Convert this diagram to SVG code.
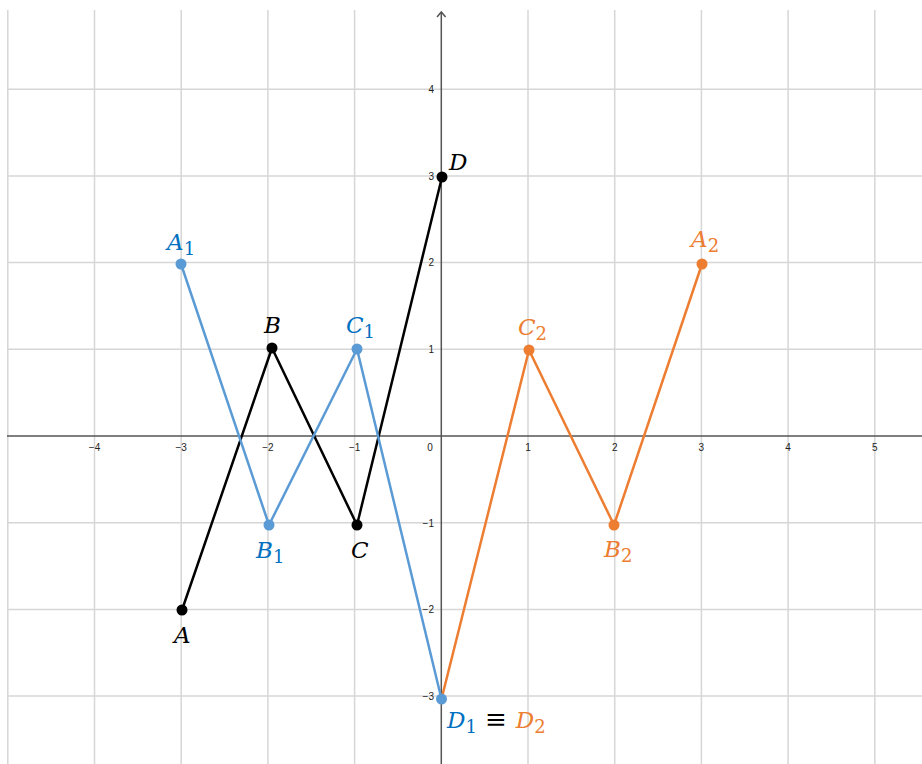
<svg xmlns="http://www.w3.org/2000/svg" width="922" height="764" viewBox="0 0 922 764">
<style>
.grid{stroke:#d6d6d6;stroke-width:1.5;fill:none}
.axis{stroke:#555;stroke-width:1.5;fill:none}
.tick{font-family:"Liberation Sans",Arial,sans-serif;font-size:10px;fill:#222}
.lbl{font-family:"DejaVu Serif","Liberation Serif",serif;font-style:italic;font-size:23px}
.sub{font-family:"DejaVu Serif","Liberation Serif",serif;font-size:18px;font-style:normal}
.blk{stroke:#000;stroke-width:2.5;fill:none;stroke-linejoin:round}
.blu{stroke:#5B9BD5;stroke-width:2.5;fill:none;stroke-linejoin:round}
.org{stroke:#ED7D31;stroke-width:2.5;fill:none;stroke-linejoin:round}
</style>
<rect width="922" height="764" fill="#fff"/>
<g id="grid">
<path class="grid" d="M7.8 10V764M94.5 10V764M181.2 10V764M267.9 10V764M354.6 10V764M528 10V764M614.7 10V764M701.4 10V764M788.1 10V764M874.8 10V764"/>
<path class="grid" d="M7 89.2H922M7 175.9H922M7 262.6H922M7 349.3H922M7 522.7H922M7 609.4H922M7 696.1H922"/>
</g>
<g id="axes">
<path class="axis" d="M7 436H922M441.3 764V12"/>
<path class="axis" d="M437 17L441.3 12L445.6 17"/>
</g>
<g id="ticks" class="tick">
<text x="94.5" y="451" text-anchor="middle">−4</text>
<text x="181.2" y="451" text-anchor="middle">−3</text>
<text x="267.9" y="451" text-anchor="middle">−2</text>
<text x="354.6" y="451" text-anchor="middle">−1</text>
<text x="430" y="451" text-anchor="middle">0</text>
<text x="528" y="451" text-anchor="middle">1</text>
<text x="614.7" y="451" text-anchor="middle">2</text>
<text x="701.4" y="451" text-anchor="middle">3</text>
<text x="788.1" y="451" text-anchor="middle">4</text>
<text x="874.8" y="451" text-anchor="middle">5</text>
<text x="434" y="93" text-anchor="end">4</text>
<text x="434" y="179.7" text-anchor="end">3</text>
<text x="434" y="266.4" text-anchor="end">2</text>
<text x="434" y="353.1" text-anchor="end">1</text>
<text x="434" y="526.5" text-anchor="end">−1</text>
<text x="434" y="613.2" text-anchor="end">−2</text>
<text x="434" y="699.9" text-anchor="end">−3</text>
</g>
<g id="connectors">
<polyline class="blk" points="182,610 272,348 357,525 442,177"/>
<polyline class="blu" points="181,264 269,525 357,349 441.5,699"/>
<polyline class="org" points="441.5,699 529,350 614,525 702,264"/>
</g>
<g id="A"><circle cx="182" cy="610" r="5.5" fill="#000"/><text class="lbl" x="174" y="643" fill="#000">A</text></g>
<g id="B"><circle cx="272" cy="348" r="5.5" fill="#000"/><text class="lbl" x="264" y="333" fill="#000">B</text></g>
<g id="C"><circle cx="357" cy="525" r="5.5" fill="#000"/><text class="lbl" x="351" y="558" fill="#000">C</text></g>
<g id="D"><circle cx="442" cy="177" r="5.5" fill="#000"/><text class="lbl" x="449" y="170" fill="#000">D</text></g>
<g id="A1" fill="#0070C0"><circle cx="181" cy="264" r="5.5" fill="#5B9BD5"/><text class="lbl" x="167" y="250">A<tspan class="sub" dy="5">1</tspan></text></g>
<g id="B1" fill="#0070C0"><circle cx="269" cy="525" r="5.5" fill="#5B9BD5"/><text class="lbl" x="256" y="558">B<tspan class="sub" dy="5">1</tspan></text></g>
<g id="C1" fill="#0070C0"><circle cx="357" cy="349" r="5.5" fill="#5B9BD5"/><text class="lbl" x="346" y="333">C<tspan class="sub" dy="5">1</tspan></text></g>
<g id="C2" fill="#ED7D31"><circle cx="529" cy="350" r="5.5"/><text class="lbl" x="518" y="335">C<tspan class="sub" dy="5">2</tspan></text></g>
<g id="B2" fill="#ED7D31"><circle cx="614" cy="525" r="5.5"/><text class="lbl" x="604" y="557">B<tspan class="sub" dy="5">2</tspan></text></g>
<g id="A2" fill="#ED7D31"><circle cx="702" cy="264" r="5.5"/><text class="lbl" x="691" y="247">A<tspan class="sub" dy="5">2</tspan></text></g>
<g id="D1D2"><circle cx="441.5" cy="699" r="5.5" fill="#5B9BD5"/>
<text class="lbl" x="447" y="728"><tspan fill="#0070C0">D</tspan><tspan class="sub" fill="#0070C0" dy="5">1</tspan><tspan font-style="normal" font-size="26" fill="#000" dy="-5" dx="8">≡</tspan><tspan fill="#ED7D31" dx="9">D</tspan><tspan class="sub" fill="#ED7D31" dy="5">2</tspan></text></g>
</svg>
